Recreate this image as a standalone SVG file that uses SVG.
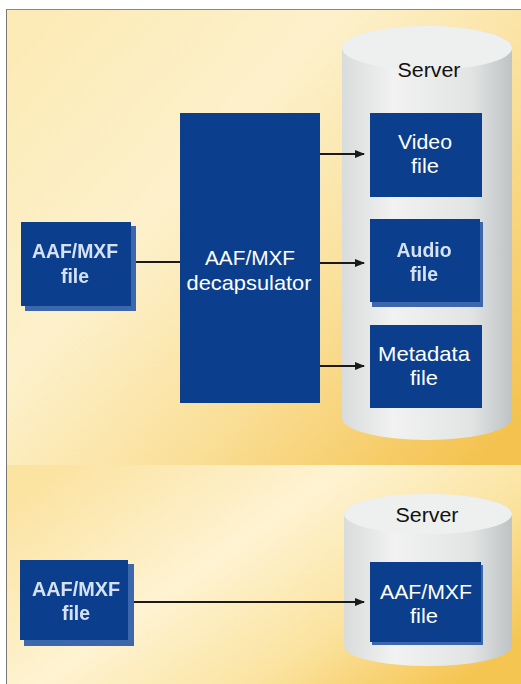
<svg xmlns="http://www.w3.org/2000/svg" width="521" height="684" viewBox="0 0 521 684">
<defs>
<linearGradient id="bg" x1="0" y1="0.1" x2="1" y2="0.9">
<stop offset="0" stop-color="#fcebb6"/>
<stop offset="0.35" stop-color="#fdf1cc"/>
<stop offset="0.65" stop-color="#fadf98"/>
<stop offset="1" stop-color="#f4c24e"/>
</linearGradient>
<linearGradient id="bg2" x1="0" y1="0.2" x2="1" y2="0.8">
<stop offset="0" stop-color="#fbe3a2"/>
<stop offset="0.4" stop-color="#fef3d2"/>
<stop offset="0.7" stop-color="#fbe4a2"/>
<stop offset="1" stop-color="#f5c552"/>
</linearGradient>
<linearGradient id="cyl" x1="0" y1="0" x2="1" y2="0">
<stop offset="0" stop-color="#d9dcdc"/>
<stop offset="0.3" stop-color="#f1f2f1"/>
<stop offset="0.75" stop-color="#e3e5e5"/>
<stop offset="1" stop-color="#bfc3c4"/>
</linearGradient>
<marker id="ah" viewBox="0 0 10 10" refX="9" refY="5" markerWidth="10" markerHeight="10" markerUnits="userSpaceOnUse" orient="auto">
<path d="M0,1 L10,5 L0,9 z" fill="#1a1a1a"/>
</marker>
<filter id="blur" x="-10%" y="-10%" width="120%" height="120%"><feGaussianBlur stdDeviation="0.7"/></filter>
</defs>
<style>
.box{fill:#0b3f8d}
.shadow{fill:#3c67ad}
.t{font-family:"Liberation Sans","Roboto",sans-serif;font-size:21px;fill:#ffffff;text-anchor:middle}
.blurt{fill:#d6e2f4;filter:url(#blur);font-weight:bold}
.srv{font-family:"Liberation Sans","Roboto",sans-serif;font-size:21px;fill:#111;text-anchor:middle}
.ln{stroke:#1a1a1a;stroke-width:2.2;fill:none}
</style>
<rect x="0" y="0" width="521" height="684" fill="#ffffff"/>
<rect x="6" y="9" width="515" height="456" fill="url(#bg)"/>
<rect x="6" y="465" width="515" height="219" fill="url(#bg2)"/>
<line x1="6.5" y1="9" x2="6.5" y2="684" stroke="#777" stroke-width="1"/>
<line x1="6" y1="9.5" x2="521" y2="9.5" stroke="#888" stroke-width="1"/>

<g id="server1">
<path d="M342,48 A85,22 0 0 1 512,48 L512,418 A85,22 0 0 1 342,418 Z" fill="url(#cyl)"/>
<ellipse cx="427" cy="48" rx="85" ry="22" fill="#eef0ef"/>
<text class="srv" x="429" y="77" textLength="63" lengthAdjust="spacingAndGlyphs">Server</text>
</g>
<g id="server2">
<path d="M344,514 A84,20 0 0 1 512,514 L512,646 A84,20 0 0 1 344,646 Z" fill="url(#cyl)"/>
<ellipse cx="428" cy="514" rx="84" ry="20" fill="#eef0ef"/>
<text class="srv" x="427" y="522" textLength="63" lengthAdjust="spacingAndGlyphs">Server</text>
</g>

<g id="decapsulator">
<rect class="box" x="180" y="113" width="140" height="290"/>
<text class="t" x="250" y="265" textLength="90" lengthAdjust="spacingAndGlyphs">AAF/MXF</text>
<text class="t" x="249" y="290" textLength="125" lengthAdjust="spacingAndGlyphs">decapsulator</text>
</g>

<g id="aaf-in-1">
<rect class="shadow" x="25" y="226" width="111" height="85"/>
<rect class="box" x="21" y="222" width="110" height="84"/>
<text class="t blurt" x="75" y="258" textLength="86" lengthAdjust="spacingAndGlyphs">AAF/MXF</text>
<text class="t blurt" x="75" y="283" textLength="28" lengthAdjust="spacingAndGlyphs">file</text>
</g>

<g id="video">
<rect class="box" x="370" y="113" width="112" height="84"/>
<text class="t" x="425" y="149" textLength="54" lengthAdjust="spacingAndGlyphs">Video</text>
<text class="t" x="425" y="173" textLength="28" lengthAdjust="spacingAndGlyphs">file</text>
</g>
<g id="audio">
<rect class="shadow" x="372" y="222" width="111" height="85"/>
<rect class="box" x="370" y="219" width="110" height="83"/>
<text class="t blurt" x="424" y="257" textLength="55" lengthAdjust="spacingAndGlyphs">Audio</text>
<text class="t blurt" x="424" y="281" textLength="28" lengthAdjust="spacingAndGlyphs">file</text>
</g>
<g id="metadata">
<rect class="box" x="370" y="325" width="112" height="83"/>
<text class="t" x="424" y="361" textLength="92" lengthAdjust="spacingAndGlyphs">Metadata</text>
<text class="t" x="424" y="385" textLength="28" lengthAdjust="spacingAndGlyphs">file</text>
</g>

<g id="aaf-in-2">
<rect class="shadow" x="24" y="564" width="110" height="82"/>
<rect class="box" x="20" y="560" width="108" height="80"/>
<text class="t blurt" x="76" y="596" textLength="88" lengthAdjust="spacingAndGlyphs">AAF/MXF</text>
<text class="t blurt" x="76" y="620" textLength="28" lengthAdjust="spacingAndGlyphs">file</text>
</g>
<g id="aaf-server">
<rect class="shadow" x="372" y="565" width="111" height="80"/>
<rect class="box" x="370" y="562" width="111" height="80"/>
<text class="t" x="426" y="599" textLength="92" lengthAdjust="spacingAndGlyphs">AAF/MXF</text>
<text class="t" x="424" y="623" textLength="28" lengthAdjust="spacingAndGlyphs">file</text>
</g>

<g id="connectors">
<line class="ln" x1="136" y1="262" x2="180" y2="262"/>
<line class="ln" x1="320" y1="154" x2="364" y2="154" marker-end="url(#ah)"/>
<line class="ln" x1="320" y1="263" x2="364" y2="263" marker-end="url(#ah)"/>
<line class="ln" x1="320" y1="366" x2="364" y2="366" marker-end="url(#ah)"/>
<line class="ln" x1="134" y1="602" x2="364" y2="602" marker-end="url(#ah)"/>
</g>
</svg>
